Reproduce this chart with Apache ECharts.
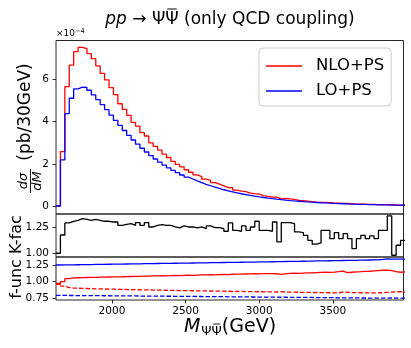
<!DOCTYPE html>
<html>
<head>
<meta charset="utf-8">
<script src="https://cdn.jsdelivr.net/npm/echarts@6.0.0/dist/echarts.min.js"></script>
<style>
html,body{margin:0;padding:0;background:#fff;}
#chart{width:411px;height:348px;}
</style>
</head>
<body>
<div id="chart"></div>
<script>
// ---- data ----
const binStart = 1620;   // GeV, lower edge of first bin
const binWidth = 30;     // GeV
const xTicks = [2000, 2500, 3000, 3500];
const mainTicks = [0, 2, 4, 6];
const kTicks = [1.00, 1.25];
const fTicks = [0.75, 1.00, 1.25];

// dσ/dM in units of 1e-4 pb/30GeV
const loPS = [0,
2.19,4.38,5.11,5.56,5.64,5.62,5.49,5.27,5.05,4.81,
4.57,4.31,4.06,3.82,3.58,3.35,3.13,2.93,2.74,2.56,
2.39,2.23,2.08,1.94,1.81,1.69,1.58,1.47,1.37,1.28,
1.19,1.11,1.03,0.96,0.89,0.83,0.77,0.72,0.67,0.62,
0.58,0.54,0.50,0.465,0.432,0.402,0.374,0.348,0.323,0.300,
0.279,0.259,0.241,0.224,0.208,0.193,0.179,0.166,0.154,0.143,
0.133,0.123,0.114,0.106,0.098,0.091,0.084,0.078,0.072,0.067,
0.062,0.057,0.053,0.049,0.045,0.042,0.039,0.036];

const nloPS = [0,
2.58,5.66,6.68,7.32,7.52,7.46,7.23,6.99,6.65,6.29,
5.98,5.61,5.28,4.85,4.58,4.30,3.97,3.79,3.48,3.32,
2.99,2.83,2.65,2.46,2.30,2.12,1.97,1.86,1.72,1.60,
1.48,1.39,1.27,1.21,1.11,1.035,0.952,0.873,0.866,0.757,
0.703,0.682,0.611,0.583,0.565,0.491,0.457,0.422,0.420,0.333,
0.361,0.335,0.310,0.270,0.249,0.226,0.201,0.180,0.169,0.175,
0.162,0.140,0.137,0.121,0.117,0.104,0.088,0.089,0.084,0.076,
0.072,0.065,0.065,0.060,0.061,0.041,0.042,0.041];

const kFac = [1.000,
1.176,1.292,1.308,1.317,1.333,1.327,1.317,1.327,1.317,1.308,
1.308,1.301,1.301,1.269,1.279,1.285,1.269,1.295,1.269,1.295,
1.253,1.269,1.276,1.269,1.269,1.253,1.244,1.263,1.253,1.253,
1.244,1.253,1.237,1.263,1.247,1.247,1.237,1.212,1.292,1.221,
1.212,1.263,1.221,1.253,1.308,1.221,1.221,1.212,1.301,1.109,
1.295,1.295,1.285,1.205,1.199,1.173,1.125,1.087,1.099,1.221,
1.221,1.141,1.199,1.141,1.189,1.141,1.045,1.141,1.173,1.141,
1.167,1.141,1.221,1.221,1.359,0.981,1.077,1.125];

const loUp = [
1.248,1.249,1.250,1.251,1.252,1.253,1.254,1.255,1.256,1.257,
1.258,1.259,1.260,1.261,1.262,1.263,1.264,1.265,1.266,1.267,
1.268,1.269,1.270,1.271,1.272,1.273,1.274,1.275,1.276,1.277,
1.278,1.279,1.280,1.281,1.282,1.283,1.284,1.285,1.286,1.287,
1.288,1.289,1.290,1.291,1.292,1.293,1.294,1.295,1.296,1.297,
1.298,1.300,1.301,1.302,1.303,1.304,1.305,1.307,1.308,1.309,
1.310,1.311,1.312,1.313,1.315,1.316,1.317,1.318,1.320,1.321,
1.322,1.323,1.325,1.331,1.338,1.336,1.334,1.335,1.336];

const loDn = [
0.795,0.795,0.794,0.794,0.793,0.793,0.792,0.792,0.791,0.791,
0.790,0.790,0.789,0.789,0.788,0.788,0.787,0.787,0.786,0.786,
0.785,0.785,0.784,0.784,0.783,0.783,0.782,0.782,0.781,0.781,
0.780,0.779,0.779,0.778,0.778,0.777,0.777,0.776,0.775,0.775,
0.774,0.774,0.773,0.772,0.772,0.771,0.771,0.770,0.769,0.769,
0.768,0.768,0.767,0.766,0.766,0.765,0.765,0.764,0.763,0.763,
0.762,0.762,0.761,0.760,0.760,0.759,0.759,0.758,0.757,0.757,
0.756,0.756,0.755,0.755,0.754,0.757,0.756,0.755,0.755];

const nloUp = [
0.960,1.000,1.045,1.055,1.058,1.060,1.062,1.063,1.064,1.066,
1.067,1.069,1.070,1.072,1.073,1.075,1.077,1.079,1.080,1.082,
1.083,1.085,1.086,1.088,1.087,1.090,1.092,1.091,1.094,1.096,
1.095,1.098,1.100,1.101,1.103,1.102,1.105,1.107,1.106,1.110,
1.112,1.111,1.114,1.116,1.118,1.117,1.120,1.119,1.121,1.118,
1.108,1.115,1.122,1.125,1.124,1.128,1.130,1.132,1.135,1.138,
1.140,1.137,1.143,1.150,1.158,1.135,1.140,1.145,1.148,1.152,
1.155,1.160,1.165,1.170,1.172,1.165,1.150,1.140,1.145];

const nloDn = [
0.975,0.935,0.912,0.905,0.902,0.900,0.898,0.896,0.894,0.893,
0.891,0.889,0.888,0.886,0.885,0.883,0.882,0.880,0.879,0.878,
0.877,0.875,0.874,0.873,0.872,0.871,0.869,0.868,0.867,0.866,
0.865,0.864,0.863,0.862,0.861,0.860,0.859,0.858,0.857,0.856,
0.855,0.854,0.853,0.852,0.851,0.850,0.849,0.848,0.847,0.846,
0.852,0.845,0.844,0.843,0.842,0.841,0.840,0.839,0.838,0.837,
0.836,0.835,0.834,0.833,0.846,0.842,0.838,0.836,0.835,0.834,
0.833,0.832,0.832,0.835,0.840,0.845,0.848,0.850,0.848];

// ---- chart ----
function hist(vals){
  const pts = vals.map((v,i)=>[binStart + i*binWidth, v]);
  pts.push([binStart + vals.length*binWidth, vals[vals.length-1]]);
  return pts;
}
const FONT = 'DejaVu Sans';
const RED = '#ff0000', BLUE = '#0000ff';
const L = 56, R = 7.5;
const gridBase = {left:L, right:R, show:true, borderColor:'#262626', borderWidth:1, backgroundColor:'rgba(0,0,0,0)'};
function xAx(i, labels){
  return {type:'value', gridIndex:i, min:1620, max:3980,
    axisLine:{show:false}, splitLine:{show:false},
    axisTick:{show:labels, length:3.5, lineStyle:{color:'#000', width:0.8}, customValues:xTicks},
    axisLabel:{show:labels, customValues:xTicks, margin:6, color:'#000', fontFamily:FONT, fontSize:10.5, formatter:v=>String(v)}};
}
function yAx(i, mn, mx, ticks, fmt){
  return {type:'value', gridIndex:i, min:mn, max:mx,
    axisLine:{show:false}, splitLine:{show:false},
    axisTick:{show:true, length:3.5, lineStyle:{color:'#000', width:0.8}, customValues:ticks},
    axisLabel:{show:true, customValues:ticks, margin:7, color:'#000', fontFamily:FONT, fontSize:10.5, formatter:fmt}};
}
function line(name, vals, color, xi, dashed){
  return {name:name, type:'line', step:'end', data:hist(vals), xAxisIndex:xi, yAxisIndex:xi,
    showSymbol:false, symbol:'none', silent:true, clip:true,
    itemStyle:{color:color},
    lineStyle:{color:color, width:1.3, type: dashed ? [4.5,2] : 'solid'}};
}

// text measuring for hand-placed overbars
const mctx = document.createElement('canvas').getContext('2d');
function tw(font, s){ mctx.font = font; return mctx.measureText(s).width; }

// Title pieces
const TFS = 17, TY = 19.5;
const tf = TFS + 'px "DejaVu Sans"', tfi = 'italic ' + TFS + 'px "DejaVu Sans"';
const t1 = 'pp', t2 = ' → Ψ', t3 = 'Ψ', t4 = ' (only QCD coupling)';
const w1 = tw(tfi,t1), w2 = tw(tf,t2), w3 = tw(tf,t3), w4 = tw(tf,t4);
const tx0 = 230 - (w1+w2+w3+w4)/2;
function tText(x, s, font){
  return {type:'text', x:x, y:TY, style:{text:s, textAlign:'left', textVerticalAlign:'middle', font:font, fill:'#000'}};
}
const barT = tx0 + w1 + w2;

// x label pieces
const XFS = 19, XSFS = 13, XY = 327, XSY = 331.5;
const xf = XFS + 'px "DejaVu Sans"', xfi = 'italic ' + XFS + 'px "DejaVu Sans"', xsf = XSFS + 'px "DejaVu Sans"';
const m1 = tw(xfi,'M'), m2 = tw(xsf,'Ψ'), m3 = tw(xsf,'Ψ'), m4 = tw(xf,'(GeV)');
const xx0 = 230 - (m1+m2+m3+m4+1)/2;

const chart = echarts.init(document.getElementById('chart'), null, {renderer:'canvas'});
chart.setOption({
  animation:false,
  backgroundColor:'#fff',
  grid:[
    Object.assign({top:40.5, height:173.5}, gridBase),
    Object.assign({top:214, height:43}, gridBase),
    Object.assign({top:257, height:43}, gridBase)
  ],
  xAxis:[xAx(0,false), xAx(1,false), xAx(2,true)],
  yAxis:[
    yAx(0, -0.38, 7.85, mainTicks, v=>String(v)),
    yAx(1, 0.964, 1.378, kTicks, v=>v.toFixed(2)),
    yAx(2, 0.727, 1.367, fTicks, v=>v.toFixed(2))
  ],
  legend:{
    data:['NLO+PS','LO+PS'], orient:'vertical', left:259, top:48,
    icon:'rect', itemWidth:36, itemHeight:1.6, itemGap:5,
    padding:[8,7,5,7], borderColor:'#cccccc', borderWidth:1, borderRadius:4,
    backgroundColor:'rgba(255,255,255,0.8)',
    textStyle:{fontFamily:FONT, fontSize:16.5, color:'#000', lineHeight:20, padding:[0,0,0,9]},
    selectedMode:false
  },
  series:[
    line('NLO+PS', nloPS, RED, 0, false),
    line('LO+PS', loPS, BLUE, 0, false),
    line('K-fac', kFac, '#000', 1, false),
    line('lo-up', loUp, BLUE, 2, false),
    line('nlo-up', nloUp, RED, 2, false),
    line('nlo-dn', nloDn, RED, 2, true),
    line('lo-dn', loDn, BLUE, 2, true)
  ],
  graphic:[
    tText(tx0, t1, tfi),
    tText(tx0 + w1, t2, tf),
    tText(tx0 + w1 + w2, t3, tf),
    tText(tx0 + w1 + w2 + w3, t4, tf),
    {type:'line', shape:{x1:barT + 2, y1:TY - 0.5*TFS - 2, x2:barT + w3 - 2, y2:TY - 0.5*TFS - 2}, style:{stroke:'#000', lineWidth:1}},
    {type:'text', x:56, y:34, style:{
      text:'×10{s|−4}', textAlign:'left', textVerticalAlign:'middle',
      font:'9px "DejaVu Sans"', fill:'#000',
      rich:{s:{fontSize:6.5, fontFamily:FONT, verticalAlign:'top', padding:[0,0,5,0]}}}},
    // y label main
    {type:'text', x:23.5, y:181, rotation:Math.PI/2, style:{
      text:'dσ', textAlign:'center', textVerticalAlign:'middle',
      font:'italic 13px "DejaVu Sans"', fill:'#000'}},
    {type:'line', shape:{x1:30.5, y1:169, x2:30.5, y2:193}, style:{stroke:'#000', lineWidth:0.9}},
    {type:'text', x:38, y:181, rotation:Math.PI/2, style:{
      text:'dM', textAlign:'center', textVerticalAlign:'middle',
      font:'italic 13px "DejaVu Sans"', fill:'#000'}},
    {type:'text', x:26, y:112, rotation:Math.PI/2, style:{
      text:'(pb/30GeV)', textAlign:'center', textVerticalAlign:'middle',
      font:'17px "DejaVu Sans"', fill:'#000'}},
    // y label ratio panels
    {type:'text', x:17, y:257, rotation:Math.PI/2, style:{
      text:'f-unc K-fac', textAlign:'center', textVerticalAlign:'middle',
      font:'16px "DejaVu Sans"', fill:'#000'}},
    // x label
    {type:'text', x:xx0, y:XY, style:{text:'M', textAlign:'left', textVerticalAlign:'middle', font:xfi, fill:'#000'}},
    {type:'text', x:xx0 + m1 + 1, y:XSY, style:{text:'Ψ', textAlign:'left', textVerticalAlign:'middle', font:xsf, fill:'#000'}},
    {type:'text', x:xx0 + m1 + 1 + m2, y:XSY, style:{text:'Ψ', textAlign:'left', textVerticalAlign:'middle', font:xsf, fill:'#000'}},
    {type:'line', shape:{x1:xx0 + m1 + 1 + m2 + 1.5, y1:XSY - 0.5*XSFS - 1, x2:xx0 + m1 + 1 + m2 + m3 - 1.5, y2:XSY - 0.5*XSFS - 1}, style:{stroke:'#000', lineWidth:0.9}},
    {type:'text', x:xx0 + m1 + 1 + m2 + m3, y:XY, style:{text:'(GeV)', textAlign:'left', textVerticalAlign:'middle', font:xf, fill:'#000'}}
  ]
});
</script>
</body>
</html>
